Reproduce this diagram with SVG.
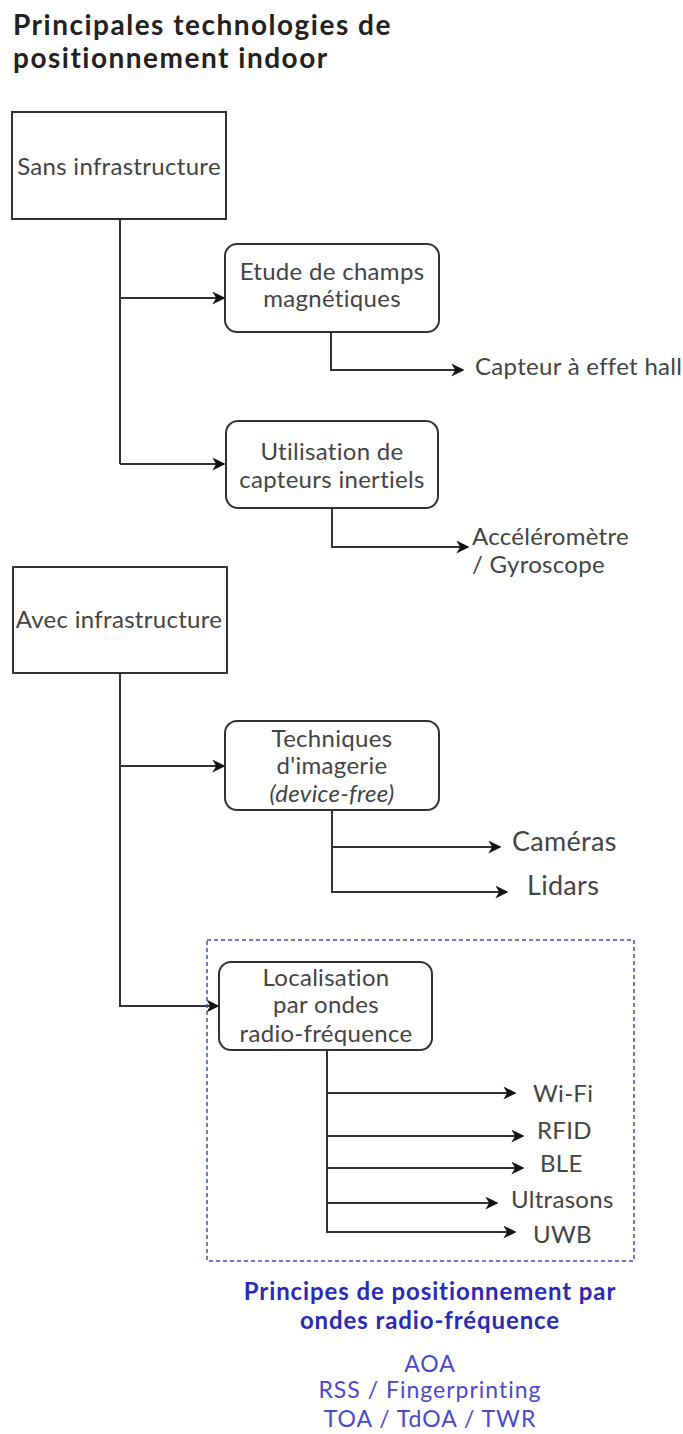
<svg xmlns="http://www.w3.org/2000/svg" width="683" height="1434" viewBox="0 0 683 1434">
  <style>
    .title { font-family: Lato, "Open Sans", sans-serif; font-weight: bold; font-size: 28px; letter-spacing: 1.5px; fill: #222; }
    .box { fill: #fff; stroke: #333; stroke-width: 2; }
    .lbl { font-family: Lato, "Open Sans", sans-serif; font-size: 24px; letter-spacing: 0.3px; fill: #444; text-anchor: middle; }
    .leaf { font-family: Lato, "Open Sans", sans-serif; font-size: 24px; letter-spacing: 0.3px; fill: #444; }
    .big { font-size: 27px; }
    .conn { fill: none; stroke: #333; stroke-width: 2; }
    .zone { fill: none; stroke: #4a4ac0; stroke-width: 1.5; stroke-dasharray: 4 3; }
    .rfh { font-family: Lato, "Open Sans", sans-serif; font-weight: bold; font-size: 24px; letter-spacing: 0.9px; fill: #2a2ab4; text-anchor: middle; }
    .rfp { font-family: Lato, "Open Sans", sans-serif; font-size: 23px; letter-spacing: 1px; fill: #4a4ac8; text-anchor: middle; }
  </style>
  <defs>
    <marker id="arrow" viewBox="0 0 10 10" refX="9" refY="5" markerWidth="6.5" markerHeight="6.5" markerUnits="strokeWidth" orient="auto">
      <path d="M0,0 L10,5 L0,10 L3,5 z" fill="#111"/>
    </marker>
  </defs>

  <rect width="683" height="1434" fill="#fff"/>

  <g id="title">
    <text class="title" x="13" y="35">Principales technologies de</text>
    <text class="title" x="13" y="68">positionnement indoor</text>
  </g>

  <!-- connectors -->
  <g id="connectors">
    <path class="conn" d="M120,220 V464"/>
    <path class="conn" d="M120,298 H224" marker-end="url(#arrow)"/>
    <path class="conn" d="M120,464 H224" marker-end="url(#arrow)"/>
    <path class="conn" d="M331,332 V370 H463" marker-end="url(#arrow)"/>
    <path class="conn" d="M332,508 V547 H468" marker-end="url(#arrow)"/>
    <path class="conn" d="M120,673 V1006 H218" marker-end="url(#arrow)"/>
    <path class="conn" d="M120,766 H224" marker-end="url(#arrow)"/>
    <path class="conn" d="M332,810 V892 H507" marker-end="url(#arrow)"/>
    <path class="conn" d="M332,847 H500" marker-end="url(#arrow)"/>
    <path class="conn" d="M327,1050 V1232 H515" marker-end="url(#arrow)"/>
    <path class="conn" d="M327,1093 H515" marker-end="url(#arrow)"/>
    <path class="conn" d="M327,1136 H523" marker-end="url(#arrow)"/>
    <path class="conn" d="M327,1168 H523" marker-end="url(#arrow)"/>
    <path class="conn" d="M327,1203 H497" marker-end="url(#arrow)"/>
  </g>

  <g id="sans-infra">
    <rect class="box" x="12" y="112" width="214" height="107"/>
    <text class="lbl" x="119" y="175">Sans infrastructure</text>
  </g>

  <g id="champs-magnetiques">
    <rect class="box" x="225" y="244" width="214" height="88" rx="12"/>
    <text class="lbl" x="332" y="280">Etude de champs</text>
    <text class="lbl" x="332" y="307">magnétiques</text>
  </g>

  <g id="capteur-hall">
    <text class="leaf" x="475" y="375" letter-spacing="0.1">Capteur à effet hall</text>
  </g>

  <g id="capteurs-inertiels">
    <rect class="box" x="226" y="421" width="212" height="87" rx="12"/>
    <text class="lbl" x="332" y="460">Utilisation de</text>
    <text class="lbl" x="332" y="488">capteurs inertiels</text>
  </g>

  <g id="accelerometre">
    <text class="leaf" x="472" y="545">Accéléromètre</text>
    <text class="leaf" x="472" y="573">/ Gyroscope</text>
  </g>

  <g id="avec-infra">
    <rect class="box" x="13" y="567" width="214" height="106"/>
    <text class="lbl" x="119" y="628">Avec infrastructure</text>
  </g>

  <g id="imagerie">
    <rect class="box" x="225" y="721" width="214" height="89" rx="12"/>
    <text class="lbl" x="332" y="747">Techniques</text>
    <text class="lbl" x="332" y="774">d'imagerie</text>
    <text class="lbl" x="332" y="802" font-style="italic">(device-free)</text>
  </g>

  <g id="cameras">
    <text class="leaf big" x="512" y="851">Caméras</text>
  </g>
  <g id="lidars">
    <text class="leaf big" x="527" y="895">Lidars</text>
  </g>

  <g id="zone-rf">
    <rect class="zone" x="207" y="940" width="427" height="321"/>
  </g>

  <g id="radio-frequence">
    <rect class="box" x="219" y="962" width="213" height="88" rx="12"/>
    <text class="lbl" x="326" y="986">Localisation</text>
    <text class="lbl" x="326" y="1013">par ondes</text>
    <text class="lbl" x="326" y="1042">radio-fréquence</text>
  </g>

  <g id="wifi"><text class="leaf" x="533" y="1102">Wi-Fi</text></g>
  <g id="rfid"><text class="leaf" x="537" y="1139">RFID</text></g>
  <g id="ble"><text class="leaf" x="540" y="1172">BLE</text></g>
  <g id="ultrasons"><text class="leaf" x="511" y="1208">Ultrasons</text></g>
  <g id="uwb"><text class="leaf" x="533" y="1243">UWB</text></g>

  <g id="principes-rf">
    <text class="rfh" x="430" y="1300">Principes de positionnement par</text>
    <text class="rfh" x="430" y="1329">ondes radio-fréquence</text>
    <text class="rfp" x="430" y="1372">AOA</text>
    <text class="rfp" x="430" y="1398">RSS / Fingerprinting</text>
    <text class="rfp" x="430" y="1427">TOA / TdOA / TWR</text>
  </g>
</svg>
